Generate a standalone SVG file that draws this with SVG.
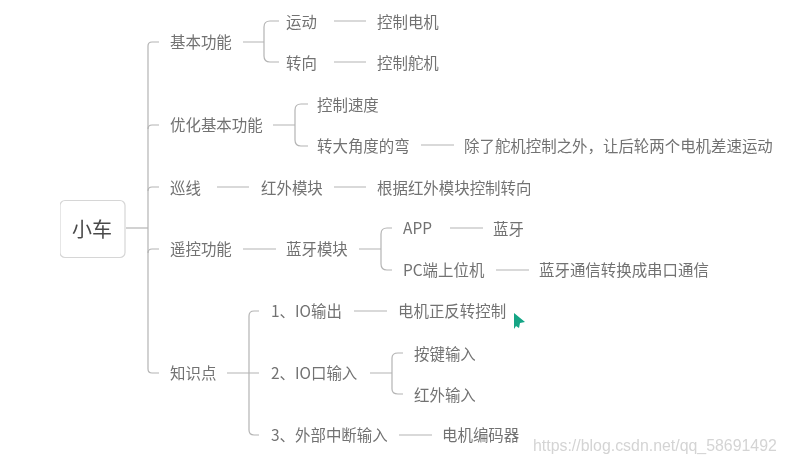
<svg xmlns="http://www.w3.org/2000/svg" width="785" height="464" viewBox="0 0 785 464">
<style>
text{font-family:"Noto Sans CJK SC","Noto Sans",sans-serif;font-size:15.45px;fill:#727272;dominant-baseline:central}
.c path{fill:none;stroke:#b4b4b4;stroke-width:1.2}
.root{font-size:20px;fill:#4a4a4a;text-anchor:middle}
.w{font-family:"Liberation Sans",sans-serif;font-size:15.9px;fill:#d4d4d4}
</style>
<defs><filter id="b" x="0" y="0" width="100%" height="100%"><feGaussianBlur stdDeviation="0.45"/></filter></defs>
<rect width="785" height="464" fill="#fff"/>
<g filter="url(#b)">
<g class="c" id="connectors">
<path d="M126 228H148"/>
<path d="M159 42H152Q148 42 148 46V369Q148 373 152 373H159"/>
<path d="M148 129Q148 125 152 125H159M148 191Q148 187 152 187H159M148 253Q148 249 152 249H159"/>
<path d="M243 42H264M279 21H270Q264 21 264 27V56Q264 62 270 62H279"/>
<path d="M334 21H366M334 62H366"/>
<path d="M273 125H295M308 104H301Q295 104 295 110V140Q295 146 301 146H308"/>
<path d="M421 145H454"/>
<path d="M217 187H249M334 187H366"/>
<path d="M243 249H276M359 249H381M392 228H387Q381 228 381 234V264Q381 270 387 270H392"/>
<path d="M450 228H483M496 270H529"/>
<path d="M227 373H259M259 311H254Q249 311 249 316V430Q249 435 254 435H259M249 373H259"/>
<path d="M354 311H387"/>
<path d="M370 373H392M403 353H398Q392 353 392 358V389Q392 394 398 394H403"/>
<path d="M399 435H432"/>
</g>
<g id="n-root"><rect x="60" y="200.500" width="65" height="57" rx="5" fill="#fff" stroke="#d6d6d6" stroke-width="1.2"/><text class="root" x="92" y="228">小车</text></g>
<g id="n1"><text x="170" y="41">基本功能</text></g>
<g id="n2"><text x="286" y="21">运动</text></g>
<g id="n3"><text x="377" y="21">控制电机</text></g>
<g id="n4"><text x="286" y="62">转向</text></g>
<g id="n5"><text x="377" y="62">控制舵机</text></g>
<g id="n6"><text x="170" y="124">优化基本功能</text></g>
<g id="n7"><text x="317" y="104">控制速度</text></g>
<g id="n8"><text x="317" y="145">转大角度的弯</text></g>
<g id="n9"><text x="464" y="145">除了舵机控制之外，让后轮两个电机差速运动</text></g>
<g id="n10"><text x="170" y="187">巡线</text></g>
<g id="n11"><text x="261" y="187">红外模块</text></g>
<g id="n12"><text x="377" y="187">根据红外模块控制转向</text></g>
<g id="n13"><text x="170" y="248">遥控功能</text></g>
<g id="n14"><text x="286" y="248">蓝牙模块</text></g>
<g id="n15"><text x="403" y="227">APP</text></g>
<g id="n16"><text x="493" y="228">蓝牙</text></g>
<g id="n17"><text x="403" y="269">PC端上位机</text></g>
<g id="n18"><text x="539" y="269">蓝牙通信转换成串口通信</text></g>
<g id="n19"><text x="170" y="372">知识点</text></g>
<g id="n20"><text x="271" y="310">1、IO输出</text></g>
<g id="n21"><text x="398" y="310">电机正反转控制</text></g>
<g id="n22"><text x="271" y="372">2、IO口输入</text></g>
<g id="n23"><text x="414" y="353">按键输入</text></g>
<g id="n24"><text x="414" y="394">红外输入</text></g>
<g id="n25"><text x="271" y="434">3、外部中断输入</text></g>
<g id="n26"><text x="442" y="434">电机编码器</text></g>
<polygon points="514,313 525,322 520,323 519,328 516,326 514,329" fill="#12a585"/>
<text class="w" x="533" y="445">https://blog.csdn.net/qq_58691492</text>
</g>
</svg>
